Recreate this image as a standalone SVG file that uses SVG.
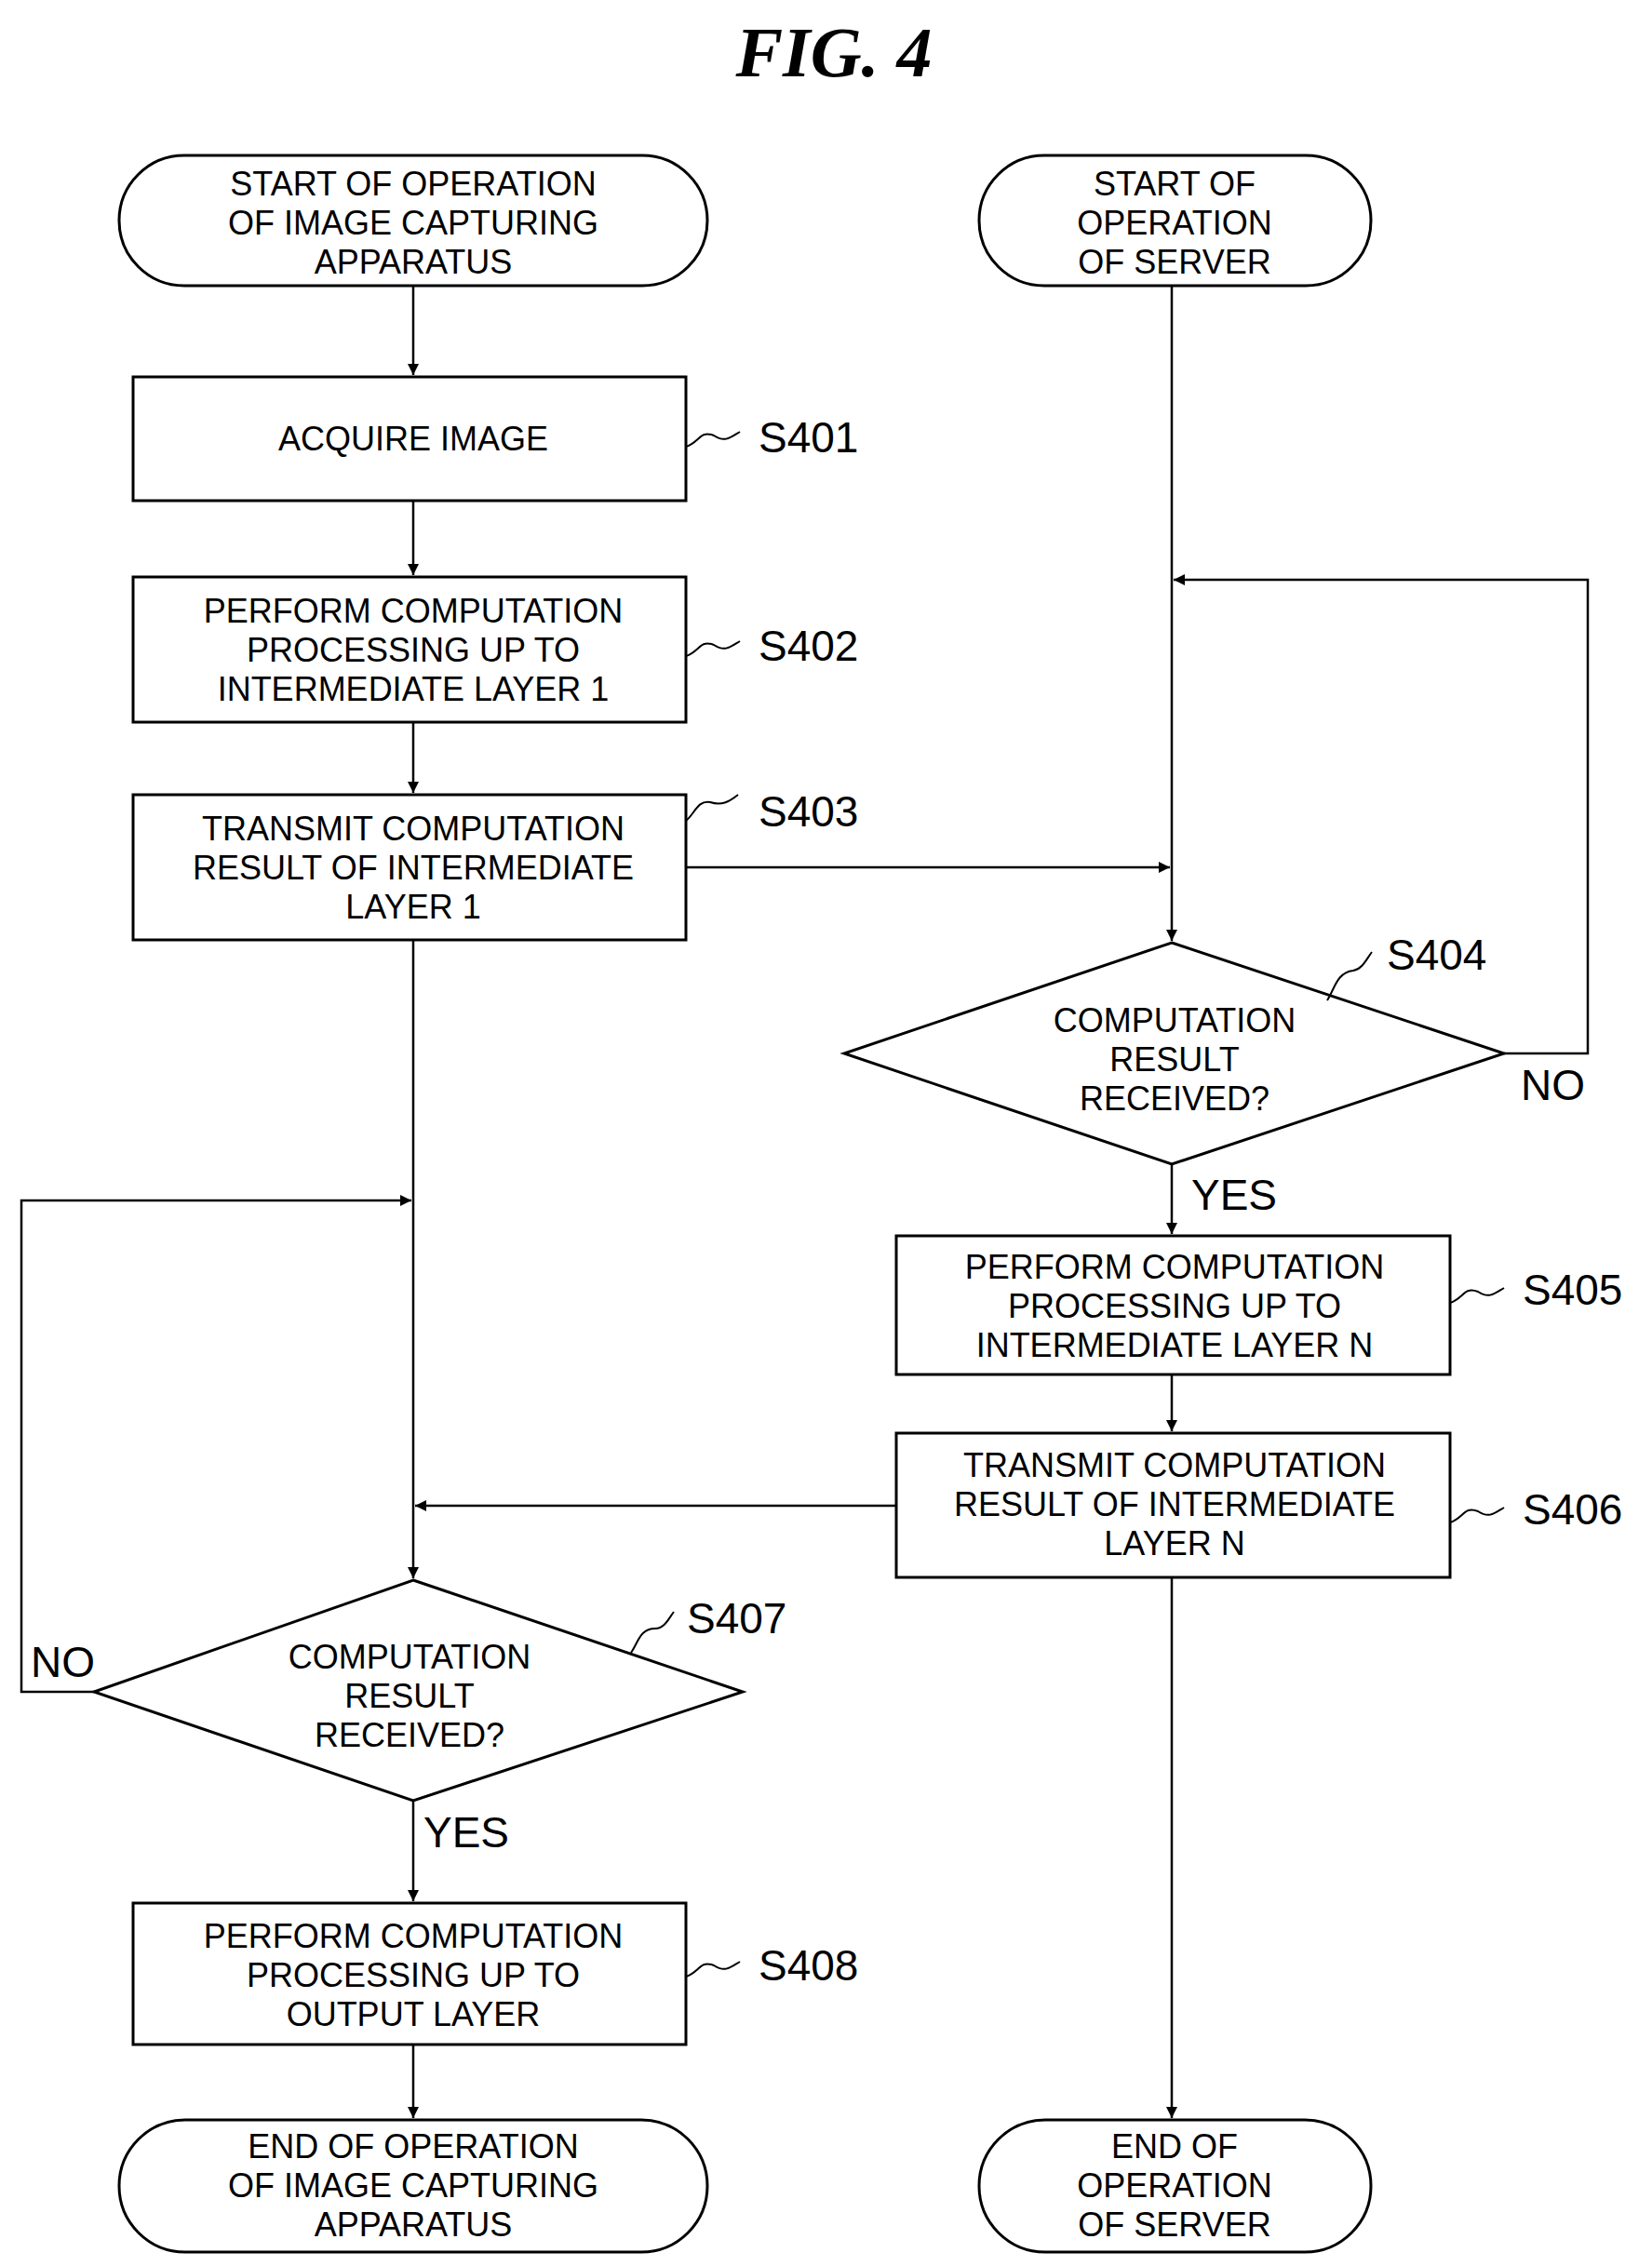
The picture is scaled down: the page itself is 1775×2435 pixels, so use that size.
<svg xmlns="http://www.w3.org/2000/svg" width="1775" height="2435" viewBox="0 0 1775 2435">
<defs>
<marker id="ah" markerWidth="14" markerHeight="14" refX="12" refY="6" orient="auto" markerUnits="userSpaceOnUse"><path d="M0,0 L12,6 L0,12 Z" fill="#000"/></marker>
<style>
.s{fill:#fff;stroke:#000;stroke-width:3}
.c{fill:none;stroke:#000;stroke-width:2.5}
.t{font-family:"Liberation Sans Narrow","Liberation Sans",Arial,sans-serif;font-size:36px;text-anchor:middle;fill:#000}
.l{font-family:"Liberation Sans Narrow","Liberation Sans",Arial,sans-serif;font-size:46px;fill:#000}
.q{fill:none;stroke:#000;stroke-width:2}
</style>
</defs>
<rect width="1775" height="2435" fill="#fff"/>
<text x="896" y="82" font-family="Liberation Serif,serif" font-style="italic" font-weight="bold" font-size="76" text-anchor="middle">FIG. 4</text>
<g id="connectors">
<path class="c" d="M444,307 V403" marker-end="url(#ah)"/>
<path class="c" d="M444,538 V618" marker-end="url(#ah)"/>
<path class="c" d="M444,776 V852" marker-end="url(#ah)"/>
<path class="c" d="M737,932 H1257" marker-end="url(#ah)"/>
<path class="c" d="M1259,307 V1011" marker-end="url(#ah)"/>
<path class="c" d="M1616,1132 H1706 V623 H1261" marker-end="url(#ah)"/>
<path class="c" d="M1259,1251 V1326" marker-end="url(#ah)"/>
<path class="c" d="M1259,1477 V1538" marker-end="url(#ah)"/>
<path class="c" d="M963,1618 H446" marker-end="url(#ah)"/>
<path class="c" d="M444,1010 V1696" marker-end="url(#ah)"/>
<path class="c" d="M101,1818 H23 V1290 H442" marker-end="url(#ah)"/>
<path class="c" d="M444,1935 V2043" marker-end="url(#ah)"/>
<path class="c" d="M444,2197 V2276" marker-end="url(#ah)"/>
<path class="c" d="M1259,1695 V2276" marker-end="url(#ah)"/>
<text class="l" x="1634" y="1182">NO</text>
<text class="l" x="1280" y="1300">YES</text>
<text class="l" x="33" y="1802">NO</text>
<text class="l" x="455" y="1985">YES</text>
</g>
<g id="start_cam"><rect class="s" x="128" y="167" width="632" height="140" rx="70"/><text class="t" x="444" y="210">START OF OPERATION</text><text class="t" x="444" y="252">OF IMAGE CAPTURING</text><text class="t" x="444" y="294">APPARATUS</text></g>
<g id="start_srv"><rect class="s" x="1052" y="167" width="421" height="140" rx="70"/><text class="t" x="1262" y="210">START OF</text><text class="t" x="1262" y="252">OPERATION</text><text class="t" x="1262" y="294">OF SERVER</text></g>
<g id="S401"><rect class="s" x="143" y="405" width="594" height="133"/><text class="t" x="444" y="484">ACQUIRE IMAGE</text><path class="q" d="M737,480 c15,-5 15,-18 30,-12 c12,8 18,2 28,-4"/><text class="l" x="815" y="486">S401</text></g>
<g id="S402"><rect class="s" x="143" y="620" width="594" height="156"/><text class="t" x="444" y="669">PERFORM COMPUTATION</text><text class="t" x="444" y="711">PROCESSING UP TO</text><text class="t" x="444" y="753">INTERMEDIATE LAYER 1</text><path class="q" d="M737,705 c15,-5 15,-18 30,-12 c12,8 18,2 28,-4"/><text class="l" x="815" y="710">S402</text></g>
<g id="S403"><rect class="s" x="143" y="854" width="594" height="156"/><text class="t" x="444" y="903">TRANSMIT COMPUTATION</text><text class="t" x="444" y="945">RESULT OF INTERMEDIATE</text><text class="t" x="444" y="987">LAYER 1</text><path class="q" d="M737,882 c10,-8 12,-22 26,-20 c12,4 20,0 30,-8"/><text class="l" x="815" y="888">S403</text></g>
<g id="S404"><polygon class="s" points="1259,1013 1616,1132 1259,1251 907,1132"/><text class="t" x="1262" y="1109">COMPUTATION</text><text class="t" x="1262" y="1151">RESULT</text><text class="t" x="1262" y="1193">RECEIVED?</text><path class="q" d="M1426,1075 c8,-12 10,-30 28,-32 c10,-2 14,-12 20,-20"/><text class="l" x="1490" y="1042">S404</text></g>
<g id="S405"><rect class="s" x="963" y="1328" width="595" height="149"/><text class="t" x="1262" y="1374">PERFORM COMPUTATION</text><text class="t" x="1262" y="1416">PROCESSING UP TO</text><text class="t" x="1262" y="1458">INTERMEDIATE LAYER N</text><path class="q" d="M1558,1400 c15,-5 15,-18 30,-12 c12,8 18,2 28,-4"/><text class="l" x="1636" y="1402">S405</text></g>
<g id="S406"><rect class="s" x="963" y="1540" width="595" height="155"/><text class="t" x="1262" y="1587">TRANSMIT COMPUTATION</text><text class="t" x="1262" y="1629">RESULT OF INTERMEDIATE</text><text class="t" x="1262" y="1671">LAYER N</text><path class="q" d="M1558,1636 c15,-5 15,-18 30,-12 c12,8 18,2 28,-4"/><text class="l" x="1636" y="1638">S406</text></g>
<g id="S407"><polygon class="s" points="444,1698 798,1818 444,1935 101,1818"/><text class="t" x="440" y="1793">COMPUTATION</text><text class="t" x="440" y="1835">RESULT</text><text class="t" x="440" y="1877">RECEIVED?</text><path class="q" d="M678,1776 c8,-12 10,-26 26,-26 c10,0 14,-10 20,-18"/><text class="l" x="738" y="1755">S407</text></g>
<g id="S408"><rect class="s" x="143" y="2045" width="594" height="152"/><text class="t" x="444" y="2093">PERFORM COMPUTATION</text><text class="t" x="444" y="2135">PROCESSING UP TO</text><text class="t" x="444" y="2177">OUTPUT LAYER</text><path class="q" d="M737,2124 c15,-5 15,-18 30,-12 c12,8 18,2 28,-4"/><text class="l" x="815" y="2128">S408</text></g>
<g id="end_cam"><rect class="s" x="128" y="2278" width="632" height="142" rx="71"/><text class="t" x="444" y="2319">END OF OPERATION</text><text class="t" x="444" y="2361">OF IMAGE CAPTURING</text><text class="t" x="444" y="2403">APPARATUS</text></g>
<g id="end_srv"><rect class="s" x="1052" y="2278" width="421" height="142" rx="71"/><text class="t" x="1262" y="2319">END OF</text><text class="t" x="1262" y="2361">OPERATION</text><text class="t" x="1262" y="2403">OF SERVER</text></g>
</svg>
